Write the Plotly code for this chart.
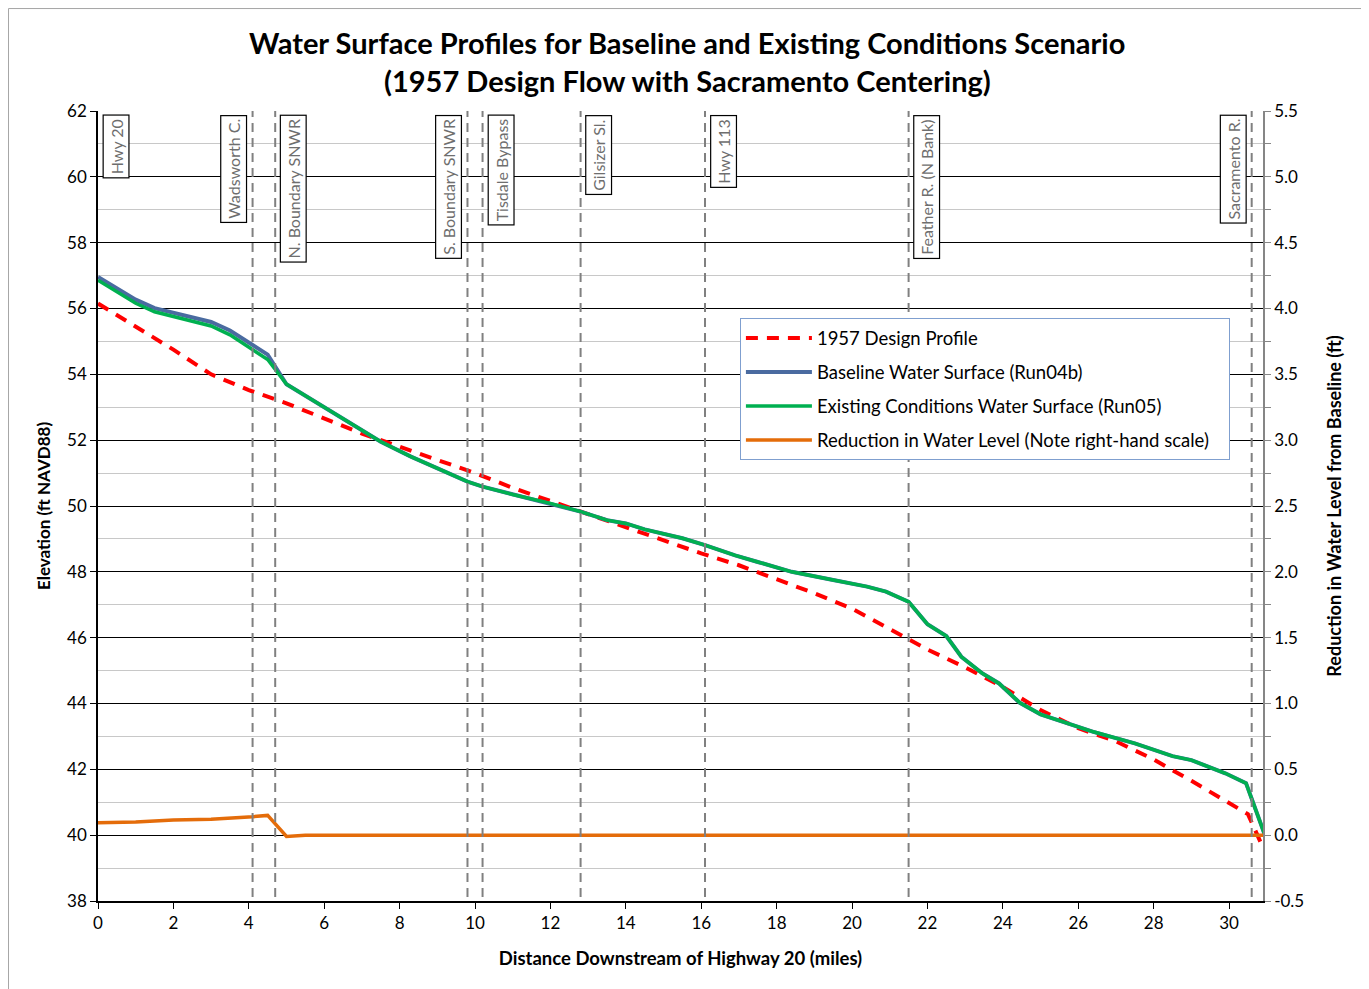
import plotly.graph_objects as go

# ---------------- data ----------------
design_x = [0, 1, 2, 3, 4, 5, 6, 7, 8, 9, 10, 11, 12, 13, 14, 15, 16, 17, 18, 19, 20,
            21, 22, 23, 24, 25, 26, 27, 28, 29, 30, 30.5, 30.85]
design_y = [56.15, 55.45, 54.75, 54.0, 53.52, 53.12, 52.65, 52.2, 51.8, 51.4, 51.0,
            50.55, 50.15, 49.75, 49.35, 48.95, 48.56, 48.2, 47.78, 47.35, 46.88,
            46.25, 45.64, 45.1, 44.5, 43.8, 43.25, 42.85, 42.3, 41.65, 40.98, 40.64, 39.75]

existing_x = [0, 0.5, 1.0, 1.5, 2.0, 2.5, 3.0, 3.5, 4.1, 4.5, 5.0, 5.5, 6.4, 7.5, 8.3,
              9.0, 9.8, 10.2, 11.0, 12.0, 12.8, 13.5, 14.0, 14.5, 15.5, 16.1, 16.9,
              17.5, 18.4, 19.5, 20.4, 20.9, 21.5, 22.0, 22.5, 22.9, 23.45, 23.9, 24.45,
              25.0, 26.4, 27.5, 28.5, 29.0, 29.9, 30.45, 30.95]
existing_y = [56.86, 56.5, 56.16, 55.9, 55.75, 55.62, 55.47, 55.2, 54.74, 54.45, 53.70,
              53.35, 52.71, 51.95, 51.5, 51.15, 50.74, 50.59, 50.35, 50.08, 49.83, 49.57,
              49.47, 49.29, 49.02, 48.81, 48.5, 48.3, 48.0, 47.75, 47.55, 47.4, 47.09,
              46.41, 46.05, 45.42, 44.92, 44.61, 44.02, 43.67, 43.14, 42.79, 42.40, 42.28,
              41.88, 41.58, 40.0]

# baseline differs from existing only upstream of ~5 miles
baseline_upstream_y = [56.96, 56.61, 56.27, 56.01, 55.87, 55.74, 55.59, 55.33, 54.88, 54.60, 53.70]
baseline_x = existing_x
baseline_y = baseline_upstream_y + existing_y[len(baseline_upstream_y):]

reduction_x = [0, 1, 2, 3, 4.1, 4.5, 5.0, 5.5, 30.95]
reduction_y = [0.095, 0.10, 0.115, 0.12, 0.14, 0.15, -0.01, 0.0, 0.0]

landmark_names = ["Hwy 20", "Wadsworth C.", "N. Boundary SNWR", "S. Boundary SNWR",
                  "Tisdale Bypass", "Gilsizer Sl.", "Hwy 113", "Feather R. (N Bank)",
                  "Sacramento R."]
landmark_miles = [0, 4.1, 4.7, 9.8, 10.2, 12.8, 16.1, 21.5, 30.6]
landmark_side = ["right", "left", "right", "left", "right", "right", "right", "right", "left"]

x_ticks = list(range(0, 31, 2))
y2_ticks = [-0.5, 0.0, 0.5, 1.0, 1.5, 2.0, 2.5, 3.0, 3.5, 4.0, 4.5, 5.0, 5.5]
y2_ticktext = ["%.1f" % v for v in y2_ticks]

title_lines = ["Water Surface Profiles for Baseline and Existing Conditions Scenario",
               "(1957 Design Flow with Sacramento Centering)"]

FONT = "Lato, 'Open Sans', sans-serif"

fig = go.Figure()

fig.add_trace(go.Scatter(x=design_x, y=design_y, mode="lines", name="1957 Design Profile",
                         line=dict(color="#FF0000", width=4, dash="12px,9px"),
                         legendgroup="a"))
fig.add_trace(go.Scatter(x=baseline_x, y=baseline_y, mode="lines",
                         name="Baseline Water Surface (Run04b)",
                         line=dict(color="#4A6BA0", width=4), legendgroup="b"))
fig.add_trace(go.Scatter(x=existing_x, y=existing_y, mode="lines",
                         name="Existing Conditions Water Surface (Run05)",
                         line=dict(color="#00B050", width=3.5), legendgroup="c"))
fig.add_trace(go.Scatter(x=reduction_x, y=reduction_y, mode="lines", yaxis="y2",
                         name="Reduction in Water Level (Note right-hand scale)&nbsp;&nbsp;&nbsp;",
                         line=dict(color="#E46C0A", width=3.5), legendgroup="d"))

shapes = []
for m in landmark_miles:
    if m == 0:
        continue
    shapes.append(dict(type="line", xref="x", yref="paper", x0=m, x1=m, y0=0.005, y1=1,
                       line=dict(color="#808080", width=2, dash="9px,6px"), layer="above"))
# outer chart border
shapes.append(dict(type="rect", xref="paper", yref="paper", x0=-0.0768, x1=1.0884,
                   y0=-0.2, y1=1.1297, line=dict(color="#A6A6A6", width=1), layer="below"))

annotations = []
for name, m, side in zip(landmark_names, landmark_miles, landmark_side):
    annotations.append(dict(
        x=m, y=0.995, xref="x", yref="paper", text=name, textangle=-90, showarrow=False,
        xanchor="left" if side == "right" else "right", yanchor="top",
        xshift=5 if side == "right" else -5,
        font=dict(family=FONT, size=16, color="#6E6E6E"),
        bgcolor="white", bordercolor="black", borderwidth=1.2, borderpad=3))

# title lines
for txt, yy in zip(title_lines, [1.0873, 1.0392]):
    annotations.append(dict(x=0.5056, y=yy, xref="paper", yref="paper", text="<b>%s</b>" % txt,
                            showarrow=False, xanchor="center", yanchor="middle",
                            font=dict(family=FONT, size=29, color="black")))

fig.update_layout(
    width=1369, height=989,
    margin=dict(l=90, r=114, t=103, b=96),
    paper_bgcolor="white", plot_bgcolor="white",
    font=dict(family=FONT, color="black"),
    xaxis=dict(range=[0, 30.9], tickvals=x_ticks, ticks="outside", ticklen=6,
               tickcolor="black", showline=True, linecolor="black", linewidth=1.5,
               showgrid=False, zeroline=False, tickfont=dict(size=17),
               title=dict(text="<b>Distance Downstream of Highway 20 (miles)</b>",
                          font=dict(size=18.5), standoff=20)),
    yaxis=dict(range=[38, 62], dtick=2, ticks="outside", ticklen=6, tickcolor="black",
               showline=True, linecolor="black", linewidth=1.5,
               showgrid=True, gridcolor="black", gridwidth=1, zeroline=False,
               minor=dict(dtick=1, showgrid=True, gridcolor="#C8C8C8", gridwidth=1),
               tickfont=dict(size=17),
               title=dict(text="<b>Elevation (ft NAVD88)</b>", font=dict(size=17), standoff=12)),
    yaxis2=dict(range=[-0.5, 5.5], tickvals=y2_ticks, ticktext=y2_ticktext,
                overlaying="y", side="right",
                ticks="outside", ticklen=6, tickcolor="#868686", showline=True,
                linecolor="#868686", linewidth=1.5, showgrid=False, zeroline=False,
                minor=dict(dtick=0.25, ticks="outside", ticklen=6, tickcolor="#868686"),
                tickfont=dict(size=17),
                title=dict(text="<b>Reduction in Water Level from Baseline (ft)</b>",
                           font=dict(size=18), standoff=25)),
    legend=dict(x=0.551, y=0.7375, xanchor="left", yanchor="top",
                bgcolor="white", bordercolor="#7F9FCF", borderwidth=1,
                font=dict(family=FONT, size=18.5, color="black"),
                itemwidth=66,
                tracegroupgap=7, traceorder="grouped"),
    shapes=shapes,
    annotations=annotations,
    showlegend=True,
)

fig.write_html("out.html")
